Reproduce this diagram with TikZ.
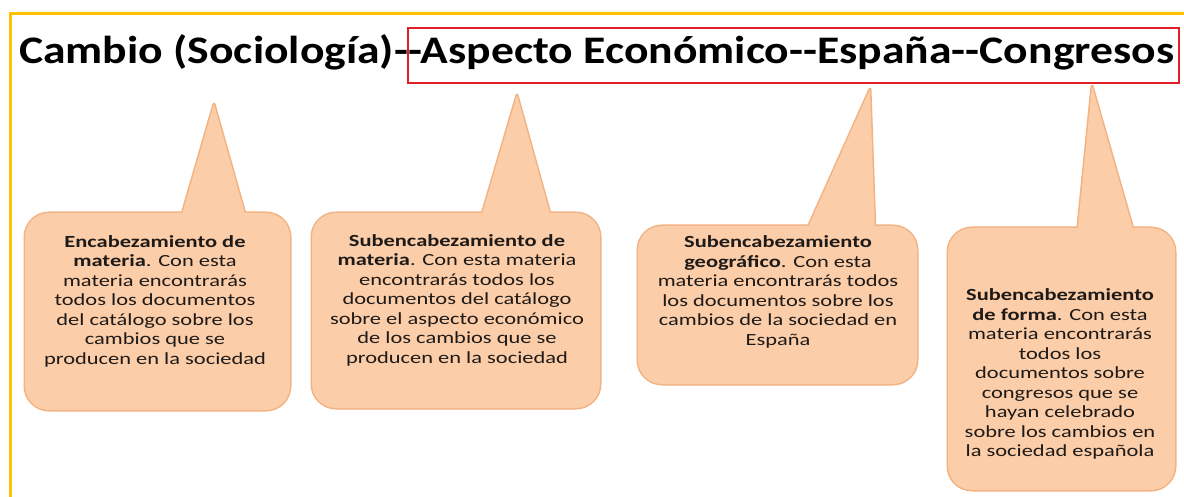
\documentclass[tikz,border=0pt]{standalone}
\usepackage{fontspec}
\newfontfamily\titlefont[FakeStretch=1.17]{Carlito}
\newfontfamily\bodyfont[FakeStretch=1.32]{Carlito}
\definecolor{frameyellow}{RGB}{255,192,0}
\definecolor{boxred}{RGB}{224,32,40}
\definecolor{peachfill}{RGB}{251,205,168}
\definecolor{peachline}{RGB}{242,178,130}
\definecolor{bodytext}{RGB}{30,26,24}
\tikzset{
  yellowframe/.style={draw=frameyellow, line width=3pt},
  redframe/.style={draw=boxred, line width=2.5pt},
  titletext/.style={inner sep=0pt, font=\titlefont\bfseries\fontsize{39}{39}\selectfont, text=black},
  calloutborder/.style={draw=peachline, line width=3pt, line join=round},
  calloutfill/.style={fill=peachfill},
  bodynode/.style={align=center, inner sep=0pt, text=bodytext, font=\bodyfont\fontsize{17}{19.5}\selectfont},
}
% callout: x1 y1 x2 y2 baseleft baseright apexx apexy
\newcommand\callbox[8]{%
  \draw[calloutborder, rounded corners=24pt] (#1,#2) rectangle (#3,#4);
  \draw[calloutborder] (#5,#2+8) -- (#7,#8) -- (#6,#2+8) -- cycle;
  \fill[calloutfill, rounded corners=24pt] (#1,#2) rectangle (#3,#4);
  \fill[calloutfill] (#5,#2+8) -- (#7,#8) -- (#6,#2+8) -- cycle;
}
\begin{document}
\begin{tikzpicture}[x=1pt,y=-1pt]
\useasboundingbox (0,0) rectangle (1184,497);
\fill[white] (0,0) rectangle (1184,497);
% outer frame (only top and left edges visible)
\draw[yellowframe] (10,497) -- (10,14) -- (1184,14);
% title
\node[titletext, anchor=base west] (t1) at (19,64) {Cambio (Sociología)-};
\node[titletext, anchor=base west] (t2) at (t1.base east) {-{}Aspecto Económico-{}-España-{}-Congresos};
\coordinate (redtop) at (0,28);
\coordinate (redbot) at (1179,83);
\draw[redframe] (t2.west |- redtop) rectangle (redbot);
% callouts
\callbox{25}{213}{290}{410}{180}{247}{214}{104}
\callbox{312}{213}{600}{408}{480}{552}{517}{95}
\callbox{638}{226}{917}{384}{805}{875}{870}{89}
\callbox{948}{228}{1175}{490}{1077}{1135}{1092}{86}
% texts
\node[bodynode] (c1) at (155,301) {\textbf{Encabezamiento de}\\\textbf{materia}. Con esta\\materia encontrarás\\todos los documentos\\del catálogo sobre los\\cambios que se\\producen en la sociedad};
\node[bodynode] (c2) at (457,300) {\textbf{Subencabezamiento de}\\\textbf{materia}. Con esta materia\\encontrarás todos los\\documentos del catálogo\\sobre el aspecto económico\\de los cambios que se\\producen en la sociedad};
\node[bodynode] (c3) at (778,292) {\textbf{Subencabezamiento}\\\textbf{geográfico}. Con esta\\materia encontrarás todos\\los documentos sobre los\\cambios de la sociedad en\\España};
\node[bodynode] (c4) at (1060,374) {\textbf{Subencabezamiento}\\\textbf{de forma}. Con esta\\materia encontrarás\\todos los\\documentos sobre\\congresos que se\\hayan celebrado\\sobre los cambios en\\la sociedad española};
\end{tikzpicture}
\end{document}
